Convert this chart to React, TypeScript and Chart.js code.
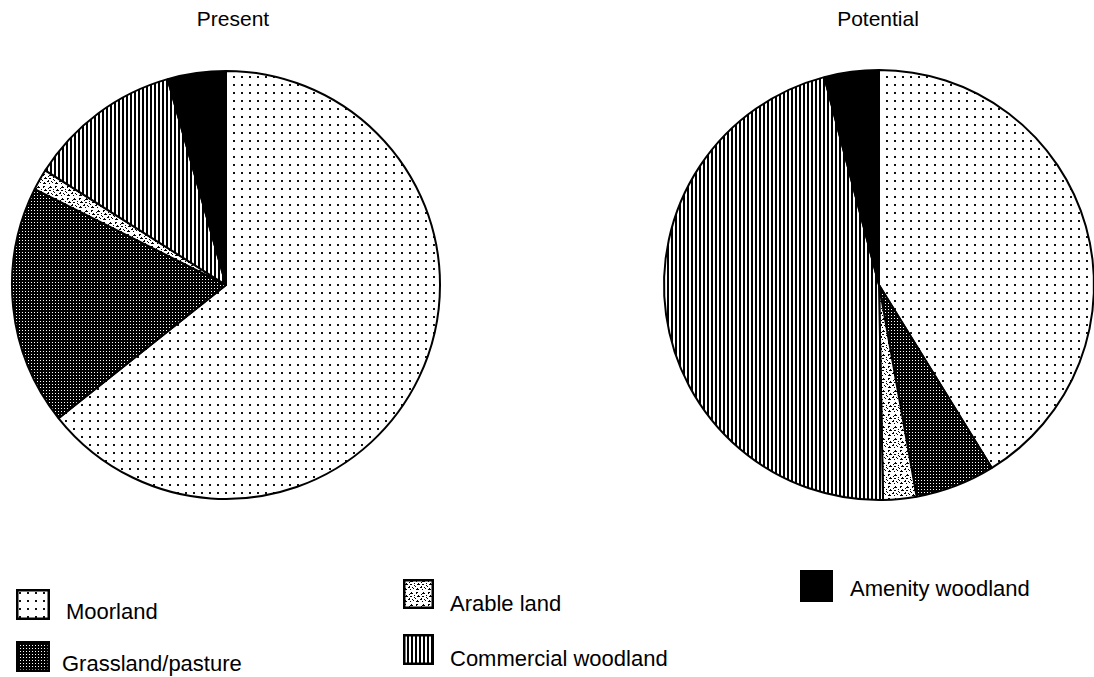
import React, { useEffect, useRef } from "react";
import { Chart, registerables } from "chart.js";

Chart.register(...registerables);

// ---- data ----
const categories = ["Moorland", "Grassland/pasture", "Arable land", "Commercial woodland", "Amenity woodland"];
const chartTitles = ["Present", "Potential"];
const presentValues = [64.3, 18.1, 1.6, 11.6, 4.4];
const potentialValues = [41.2, 6.0, 2.5, 46.2, 4.1];

type PatternKind = "dots" | "grid" | "speckle" | "stripes" | "solid";
const patternKinds: PatternKind[] = ["dots", "grid", "speckle", "stripes", "solid"];

const SPECKLE_TILE = [
  "............",
  ".##.....#...",
  ".#.....###..",
  "......#.....",
  "...#.......#",
  "..###..##...",
  "...........#",
  "#.....#.....",
  ".....##..#..",
  "..#.......#.",
  ".###...#....",
  "............",
];

function makeFill(kind: PatternKind, ctx: CanvasRenderingContext2D): string | CanvasPattern {
  if (kind === "solid") return "#000";
  const c = document.createElement("canvas");
  let size = 8;
  if (kind === "grid") size = 3;
  if (kind === "stripes") size = 4;
  if (kind === "speckle") size = 12;
  c.width = size;
  c.height = size;
  const g = c.getContext("2d")!;
  if (kind === "dots") {
    g.fillStyle = "#fff";
    g.fillRect(0, 0, size, size);
    g.fillStyle = "#111";
    g.fillRect(3, 3, 2, 2);
  } else if (kind === "grid") {
    g.fillStyle = "#000";
    g.fillRect(0, 0, size, size);
    g.fillStyle = "#fff";
    g.fillRect(1, 1, 1, 1);
  } else if (kind === "stripes") {
    g.fillStyle = "#fff";
    g.fillRect(0, 0, size, size);
    g.fillStyle = "#000";
    g.fillRect(0, 0, 2, size);
  } else if (kind === "speckle") {
    g.fillStyle = "#fff";
    g.fillRect(0, 0, size, size);
    g.fillStyle = "#000";
    SPECKLE_TILE.forEach((row, y) => {
      for (let x = 0; x < row.length; x++) if (row[x] === "#") g.fillRect(x, y, 1, 1);
    });
  }
  return ctx.createPattern(c, "repeat")!;
}

const FONT = '"Liberation Sans", Arial, Helvetica, sans-serif';

function PieChart({ values, left, top, size, radius }: { values: number[]; left: number; top: number; size: number; radius: number }) {
  const ref = useRef<HTMLCanvasElement>(null);
  useEffect(() => {
    const canvas = ref.current!;
    const ctx = canvas.getContext("2d")!;
    const fills = patternKinds.map((k) => makeFill(k, ctx));
    const chart = new Chart(canvas, {
      type: "pie",
      data: {
        labels: categories,
        datasets: [
          {
            data: values,
            backgroundColor: fills as any,
            borderColor: "#000",
            borderWidth: 2,
            radius: radius,
          },
        ],
      },
      options: {
        responsive: false,
        maintainAspectRatio: false,
        animation: false,
        layout: { padding: 0 },
        plugins: { legend: { display: false }, tooltip: { enabled: false }, title: { display: false } },
      },
    });
    return () => chart.destroy();
  }, []);
  return (
    <canvas
      ref={ref}
      width={size}
      height={size}
      style={{ position: "absolute", left, top, width: size, height: size }}
    />
  );
}

function Swatch({ kind, left, top, w, h }: { kind: PatternKind; left: number; top: number; w: number; h: number }) {
  const ref = useRef<HTMLCanvasElement>(null);
  useEffect(() => {
    const c = ref.current!;
    const ctx = c.getContext("2d")!;
    ctx.clearRect(0, 0, w, h);
    ctx.fillStyle = makeFill(kind, ctx) as any;
    ctx.fillRect(0, 0, w, h);
    ctx.strokeStyle = "#000";
    ctx.lineWidth = 2.5;
    ctx.strokeRect(1.25, 1.25, w - 2.5, h - 2.5);
  }, []);
  return <canvas ref={ref} width={w} height={h} style={{ position: "absolute", left, top, width: w, height: h }} />;
}

const legendLayout = [
  { box: [16, 589, 34, 31], text: [66, 601] },
  { box: [16, 641, 34, 31], text: [62, 653] },
  { box: [403, 579, 31, 30], text: [450, 593] },
  { box: [403, 634, 31, 31], text: [450, 648] },
  { box: [800, 570, 33, 32], text: [850, 578] },
];

export default function App() {
  const titleStyle = (cx: number): React.CSSProperties => ({
    position: "absolute",
    left: cx - 100,
    width: 200,
    top: 8,
    textAlign: "center",
    fontFamily: FONT,
    fontSize: 21,
    lineHeight: "21px",
    color: "#000",
  });
  return (
    <div
      style={{
        position: "fixed",
        left: 0,
        top: 0,
        width: 1094,
        height: 677,
        overflow: "hidden",
        background: "#fff",
      }}
    >
      <div style={titleStyle(233)}>{chartTitles[0]}</div>
      <div style={titleStyle(878)}>{chartTitles[1]}</div>
      <PieChart values={presentValues} left={226 - 220} top={285 - 220} size={440} radius={214} />
      <PieChart values={potentialValues} left={879 - 220} top={285 - 220} size={440} radius={215} />
      {categories.map((name, i) => {
        const L = legendLayout[i];
        return (
          <React.Fragment key={name}>
            <Swatch kind={patternKinds[i]} left={L.box[0]} top={L.box[1]} w={L.box[2]} h={L.box[3]} />
            <div
              style={{
                position: "absolute",
                left: L.text[0],
                top: L.text[1],
                fontFamily: FONT,
                fontSize: 22,
                lineHeight: "22px",
                whiteSpace: "nowrap",
                color: "#000",
              }}
            >
              {name}
            </div>
          </React.Fragment>
        );
      })}
    </div>
  );
}
